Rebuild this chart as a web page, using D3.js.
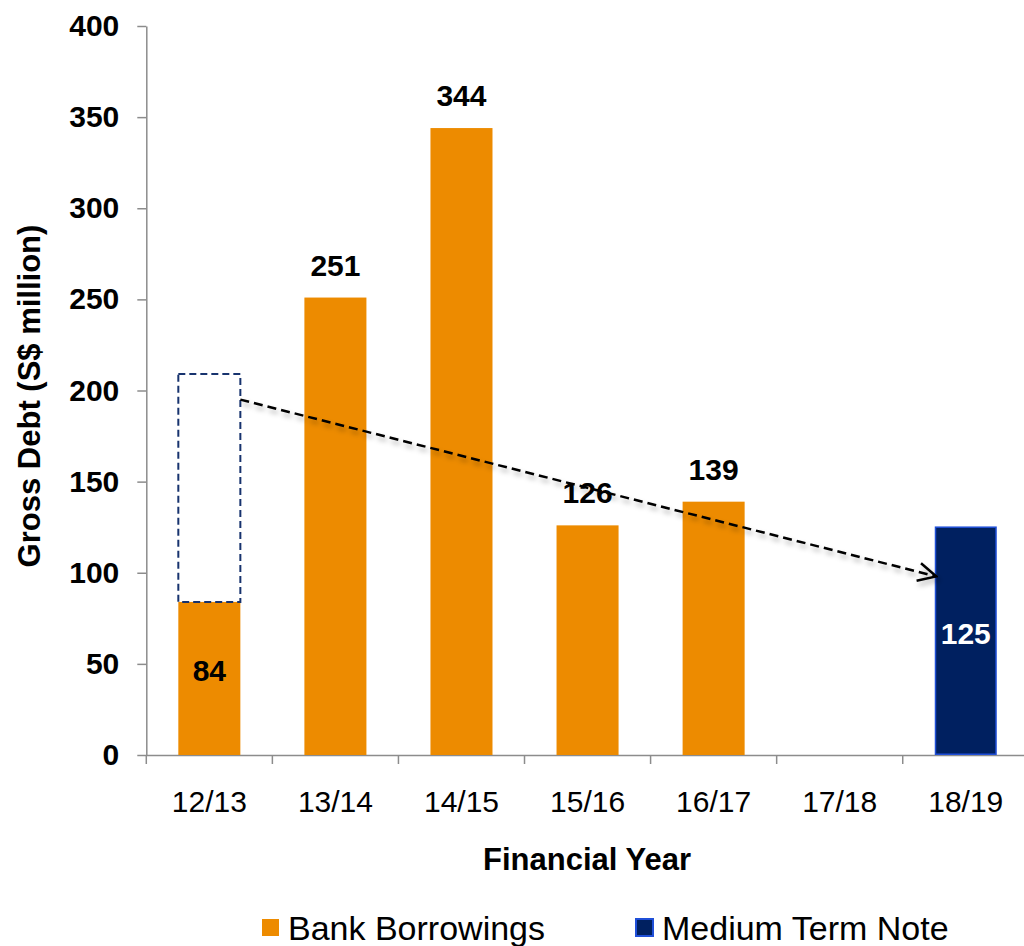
<!DOCTYPE html>
<meta charset="utf-8">
<head>
<style>
  body { margin: 0; background: #fff; }
  svg { display: block; font-family: 'Liberation Sans', Arial, sans-serif; }
  .axis path, .axis line { stroke: #8c8c8c; stroke-width: 1.5px; }
  .axis text { fill: #000; }
</style>
</head>
<body>
<div id="chart"></div>
<script src="https://cdn.jsdelivr.net/npm/d3@7"></script>
<script>

// data
var years = ["12/13", "13/14", "14/15", "15/16", "16/17", "17/18", "18/19"];
var bank = [84, 251, 344, 126, 139, null, null];
var mtn = [null, null, null, null, null, null, 125];
var labelPlace = ["inside", "above", "above", "above", "above", null, "inside"];
var yTicks = [0, 50, 100, 150, 200, 250, 300, 350, 400];
// arrow from the ghost box (12/13) to the note (18/19)
var arrowFrom = {year: "12/13", value: 195};
var arrowTo = {year: "18/19", value: 98};

var W = 1024, H = 946;
var orange = "#ED8B00", navy = "#002060";

var svg = d3.select("#chart").append("svg")
  .attr("width", W)
  .attr("height", H);

var defs = svg.append("defs");
var f = defs.append("filter").attr("id", "shadow")
  .attr("x", "-5%").attr("y", "-50%").attr("width", "110%").attr("height", "200%");
f.append("feDropShadow")
  .attr("dx", 2).attr("dy", 4).attr("stdDeviation", 2.5)
  .attr("flood-color", "#000").attr("flood-opacity", 0.3);

defs.append("marker")
  .attr("id", "head")
  .attr("viewBox", "-20 -11 22 22")
  .attr("refX", 0).attr("refY", 0)
  .attr("markerWidth", 22).attr("markerHeight", 22)
  .attr("markerUnits", "userSpaceOnUse")
  .attr("orient", "auto")
  .append("path")
  .attr("d", "M-18,-9 L0,0 L-18,9")
  .attr("fill", "none")
  .attr("stroke", "#000")
  .attr("stroke-width", 2.5);

// scales
var x = d3.scaleBand()
  .domain(years)
  .range([146.3, 1028.8])
  .paddingInner(0.508)
  .paddingOuter(0.254);

var y = d3.scaleLinear()
  .domain([0, 400])
  .range([755, 26]);

var outer = x.step() * x.paddingOuter();

// y axis
var yAxis = svg.append("g")
  .attr("class", "axis")
  .attr("transform", "translate(" + x.range()[0] + ",0)")
  .call(d3.axisLeft(y).tickValues(yTicks).tickSize(9).tickSizeOuter(0).tickPadding(18));
yAxis.selectAll("text")
  .style("font-size", "30px")
  .style("font-weight", "bold");

// x axis
var xAxis = svg.append("g")
  .attr("class", "axis")
  .attr("transform", "translate(0," + y(0) + ")")
  .call(d3.axisBottom(x).tickSize(0).tickSizeOuter(0).tickPadding(36));
xAxis.selectAll("text")
  .style("font-size", "30px");

// ticks between the categories
xAxis.selectAll(".sep")
  .data(years)
  .enter().append("line")
  .attr("class", "sep")
  .attr("x1", function(d) { return x(d) - outer; })
  .attr("x2", function(d) { return x(d) - outer; })
  .attr("y1", 0)
  .attr("y2", 9);

// bars
svg.selectAll(".bank")
  .data(years.filter(function(d, i) { return bank[i] != null; }))
  .enter().append("rect")
  .attr("class", "bank")
  .attr("x", function(d) { return x(d); })
  .attr("width", x.bandwidth())
  .attr("y", function(d) { return y(bank[years.indexOf(d)]); })
  .attr("height", function(d) { return y(0) - y(bank[years.indexOf(d)]); })
  .attr("fill", orange);

svg.selectAll(".mtn")
  .data(years.filter(function(d, i) { return mtn[i] != null; }))
  .enter().append("rect")
  .attr("class", "mtn")
  .attr("x", function(d) { return x(d) + 0.75; })
  .attr("width", x.bandwidth() - 1.5)
  .attr("y", function(d) { return y(mtn[years.indexOf(d)]); })
  .attr("height", function(d) { return y(0) - y(mtn[years.indexOf(d)]) - 0.75; })
  .attr("fill", navy)
  .attr("stroke", "#1f4fd8")
  .attr("stroke-width", 1.5);

// ghost of the note sitting on top of the 12/13 borrowings
var note = d3.max(mtn);
svg.append("rect")
  .attr("x", x("12/13"))
  .attr("width", x.bandwidth())
  .attr("y", y(bank[0] + note))
  .attr("height", y(bank[0]) - y(bank[0] + note))
  .attr("fill", "none")
  .attr("stroke", "#17336e")
  .attr("stroke-width", 2)
  .attr("stroke-dasharray", "7,4");

// dashed arrow
svg.append("line")
  .attr("x1", x(arrowFrom.year) + x.bandwidth())
  .attr("y1", y(arrowFrom.value))
  .attr("x2", x(arrowTo.year) + 1.5)
  .attr("y2", y(arrowTo.value))
  .attr("stroke", "#000")
  .attr("stroke-width", 2.5)
  .attr("stroke-dasharray", "9,5")
  .attr("marker-end", "url(#head)")
  .attr("filter", "url(#shadow)");

// value labels
years.forEach(function(d, i) {
  var v = bank[i] != null ? bank[i] : mtn[i];
  if (v == null) return;
  var ly, col = "#000";
  if (labelPlace[i] == "above") {
    ly = y(v) - 22;
  } else {
    ly = (y(v) + y(0)) / 2 + 3;
    if (mtn[i] != null) col = "#fff";
  }
  svg.append("text")
    .attr("x", x(d) + x.bandwidth() / 2)
    .attr("y", ly)
    .attr("text-anchor", "middle")
    .style("font-size", "30px")
    .style("font-weight", "bold")
    .attr("fill", col)
    .text(v);
});

// axis titles
svg.append("text")
  .attr("transform", "translate(40,396) rotate(-90)")
  .attr("text-anchor", "middle")
  .style("font-size", "31px")
  .style("font-weight", "bold")
  .text("Gross Debt (S$ million)");

svg.append("text")
  .attr("x", 587)
  .attr("y", 870)
  .attr("text-anchor", "middle")
  .style("font-size", "31px")
  .style("font-weight", "bold")
  .text("Financial Year");

// legend
var legend = [
  {name: "Bank Borrowings", color: orange, stroke: "none", x: 262},
  {name: "Medium Term Note", color: navy, stroke: "#1f4fd8", x: 636}
];
var lg = svg.selectAll(".lg")
  .data(legend)
  .enter().append("g")
  .attr("class", "lg")
  .attr("transform", function(d) { return "translate(" + d.x + ",919)"; });
lg.append("rect")
  .attr("width", 17).attr("height", 17)
  .attr("fill", function(d) { return d.color; })
  .attr("stroke", function(d) { return d.stroke; })
  .attr("stroke-width", 2);
lg.append("text")
  .attr("x", 26)
  .attr("y", 21)
  .style("font-size", "34px")
  .text(function(d) { return d.name; });

</script>
</body>
